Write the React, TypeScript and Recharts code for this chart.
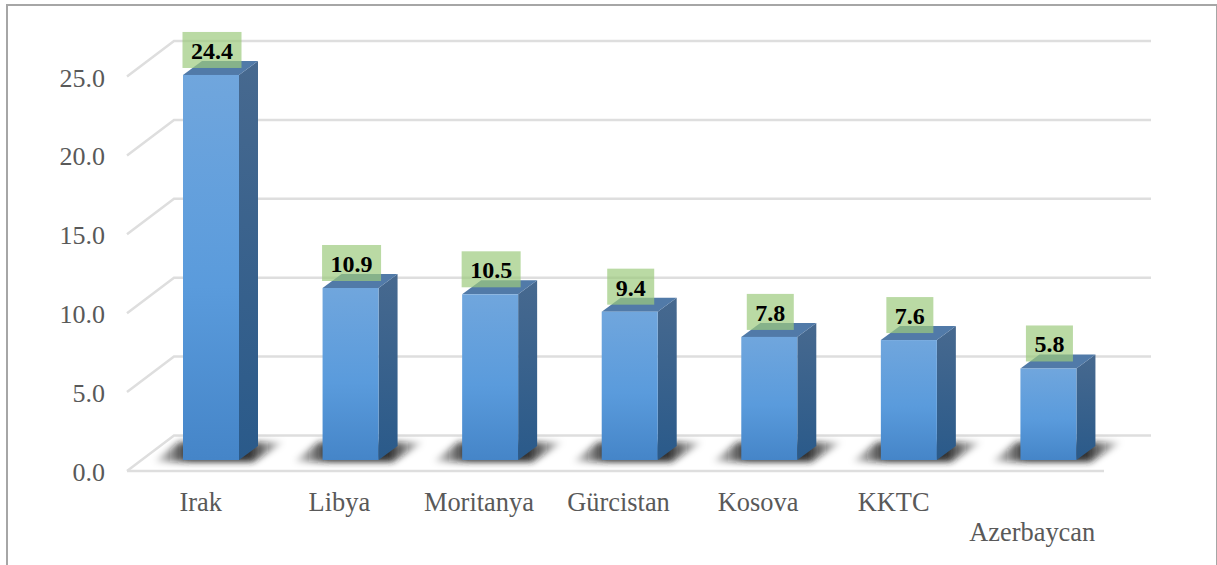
import { BarChart, Bar, XAxis, YAxis, CartesianGrid, LabelList } from "recharts";

const countries = ["Irak", "Libya", "Moritanya", "Gürcistan", "Kosova", "KKTC", "Azerbaycan"];
const rates = [24.4, 10.9, 10.5, 9.4, 7.8, 7.6, 5.8];
const yTicks = [0, 5, 10, 15, 20, 25];

const data = countries.map((country, i) => ({ country, rate: rates[i] }));

const FONT = '"Liberation Serif", "Times New Roman", serif';
const GRID = "#dedede";
const DEPTH_X = 19;
const DEPTH_Y = 14;
// category labels do not sit quite under their bars in the original
const labelShift = [-10, -11, -11, -11, -11, -15, -16];

// fake 3D wall + floor, one call per y tick
function GridLine(props: any) {
  const { x1, x2, y1, key } = props;
  const frontY = y1 + 11;
  const backY = y1 - 24.5;
  const frontX = x1 - 14;
  const backX = x1 + 33;
  const isFloor = y1 > 459;
  return (
    <g key={key}>
      <path
        d={`M${frontX} ${frontY}L${backX} ${backY}L${x2 + 33} ${backY}`}
        fill="none"
        stroke={GRID}
        strokeWidth={2.5}
      />
      {isFloor && <line x1={frontX} x2={x2 - 14} y1={frontY} y2={frontY} stroke={GRID} strokeWidth={2.5} />}
    </g>
  );
}

function Bar3D(props: any) {
  const { x, y, width, height } = props;
  const right = x + width;
  const bottom = y + height;
  return (
    <g>
      <polygon
        points={`${x - 30},${bottom + 2} ${right + 14},${bottom + 2} ${right + 46},${bottom - 18} ${x - 4},${bottom - 18}`}
        fill="url(#shadowFill)"
        filter="url(#shadowBlur)"
      />
      <polygon
        points={`${right},${y} ${right + DEPTH_X},${y - DEPTH_Y} ${right + DEPTH_X},${bottom - DEPTH_Y} ${right},${bottom}`}
        fill="url(#sideFill)"
      />
      <polygon
        points={`${x},${y} ${x + DEPTH_X},${y - DEPTH_Y} ${right + DEPTH_X},${y - DEPTH_Y} ${right},${y}`}
        fill="#517aa8"
      />
      <rect x={x} y={y} width={width} height={height} fill="url(#frontFill)" />
    </g>
  );
}

function ValueLabel(props: any) {
  const { x, y, width, value } = props;
  const text = Number(value).toFixed(1);
  const boxW = text.length > 3 ? 59 : 47;
  const cx = x + width / 2 + 1;
  return (
    <g>
      <rect x={cx - boxW / 2} y={y - 43} width={boxW} height={36} fill="#9ccb7e" fillOpacity={0.7} />
      <text x={cx} y={y - 16} textAnchor="middle" fontFamily={FONT} fontSize={24} fontWeight="bold" fill="#000">
        {text}
      </text>
    </g>
  );
}

function YTick(props: any) {
  const { y, payload } = props;
  return (
    <text x={105} y={y + 21} textAnchor="end" fontFamily={FONT} fontSize={26} fill="#595959">
      {Number(payload.value).toFixed(1)}
    </text>
  );
}

function XTick(props: any) {
  const { x, y, payload, index } = props;
  const last = index === countries.length - 1;
  return (
    <text
      x={x + labelShift[index]}
      y={y + (last ? 73 : 43)}
      textAnchor="middle"
      fontFamily={FONT}
      fontSize={26.4}
      fill="#595959"
    >
      {payload.value}
    </text>
  );
}

export default function App() {
  return (
    <div style={{ position: "absolute", left: 0, top: 0, width: 1217, height: 565, overflow: "hidden", background: "#fff" }}>
      <div
        style={{
          position: "absolute",
          left: 6,
          top: 4,
          width: 1208,
          height: 600,
          border: "2px solid #a6a6a6",
          boxSizing: "content-box",
        }}
      />
      <div style={{ position: "absolute", left: 0, top: 0 }}>
        <BarChart
          width={1217}
          height={565}
          data={data}
          margin={{ top: 65.5, right: 99, bottom: 0, left: 0 }}
          barSize={56}
        >
          <defs>
            <linearGradient id="frontFill" x1="0" y1="0" x2="0" y2="1">
              <stop offset="0%" stopColor="#70a6dd" />
              <stop offset="55%" stopColor="#5a9bdc" />
              <stop offset="100%" stopColor="#4585c8" />
            </linearGradient>
            <linearGradient id="sideFill" x1="0" y1="0" x2="0" y2="1">
              <stop offset="0%" stopColor="#47698f" />
              <stop offset="100%" stopColor="#2a5a8a" />
            </linearGradient>
            <linearGradient id="shadowFill" x1="0" y1="0" x2="1" y2="0">
              <stop offset="0%" stopColor="#000" stopOpacity={0} />
              <stop offset="28%" stopColor="#222" stopOpacity={0.95} />
              <stop offset="72%" stopColor="#222" stopOpacity={0.95} />
              <stop offset="100%" stopColor="#000" stopOpacity={0} />
            </linearGradient>
            <filter id="shadowBlur" x="-20%" y="-50%" width="140%" height="200%">
              <feGaussianBlur stdDeviation="3" />
            </filter>
          </defs>
          <CartesianGrid vertical={false} horizontal={GridLine} />
          <XAxis dataKey="country" axisLine={false} tickLine={false} height={105} tick={XTick} interval={0} />
          <YAxis
            width={141}
            domain={[0, 25]}
            ticks={yTicks}
            axisLine={false}
            tickLine={false}
            tick={YTick}
          />
          <Bar dataKey="rate" shape={Bar3D} isAnimationActive={false}>
            <LabelList dataKey="rate" content={ValueLabel} />
          </Bar>
        </BarChart>
      </div>
    </div>
  );
}
